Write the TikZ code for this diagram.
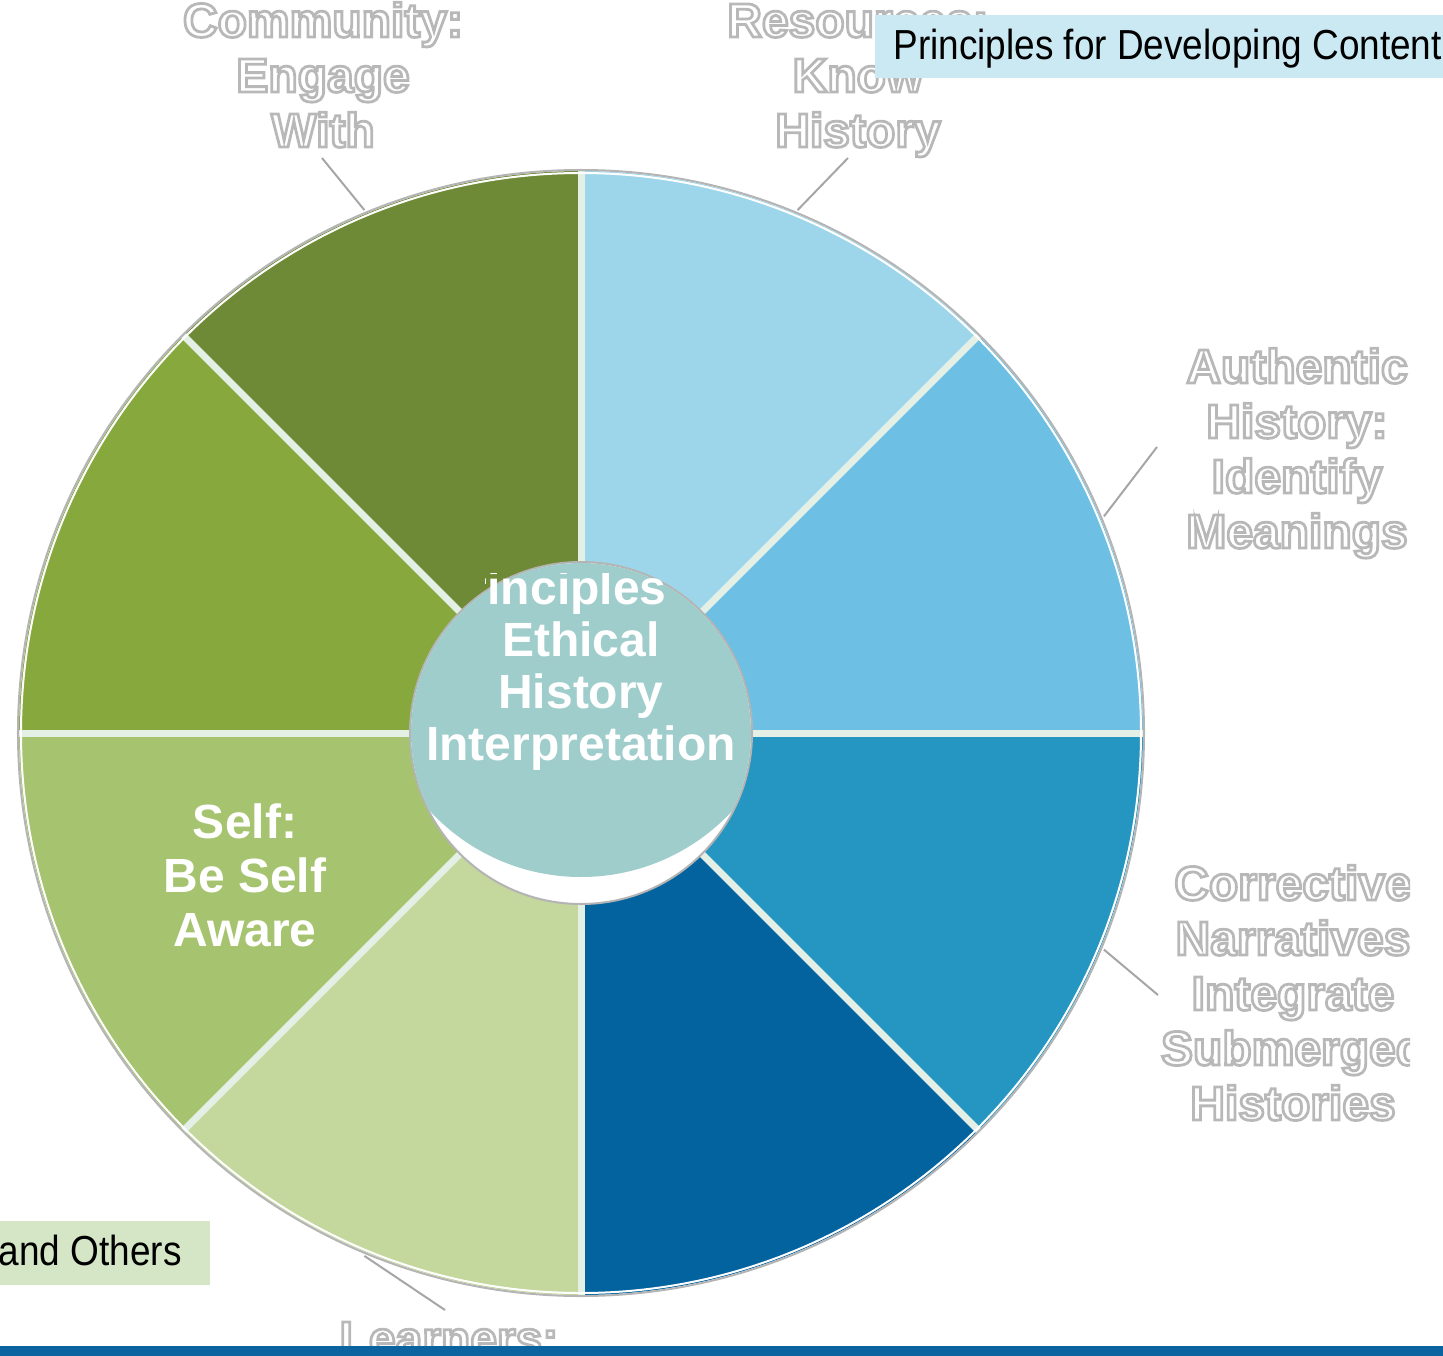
\documentclass[tikz,border=0pt]{standalone}
\usepackage{fontspec}
\setmainfont{Liberation Sans}
\newfontfamily\narrowsans[FakeStretch=0.88]{Liberation Sans}
\usetikzlibrary{math}

\definecolor{segA}{HTML}{6DC0E3}
\definecolor{segB}{HTML}{9DD6EA}
\definecolor{segC}{HTML}{6F8A36}
\definecolor{segD}{HTML}{86A83C}
\definecolor{segE}{HTML}{A6C36F}
\definecolor{segF}{HTML}{C4D79D}
\definecolor{segG}{HTML}{02639F}
\definecolor{segH}{HTML}{2596C1}
\definecolor{divider}{HTML}{E4F0E6}
\definecolor{rimgray}{HTML}{B4B4B4}
\definecolor{hub}{HTML}{9FCDCB}
\definecolor{tagblue}{HTML}{CBE9F3}
\definecolor{taggreen}{HTML}{D5E6C6}
\definecolor{barblue}{HTML}{0B64A0}

% hollow letters: white fill, grey stroke
\newcommand{\outl}[1]{\special{pdf:literal direct 2 Tr 1.4 w 0.72 0.72 0.72 RG}#1\special{pdf:literal direct 0 Tr}}

\tikzset{
  wedgeline/.style={line width=3.5pt, divider},
  leader/.style={draw=gray!70, line width=1pt},
  ringtext/.style={font=\fontsize{24}{27.5}\selectfont\bfseries, align=center,
    text=white, inner sep=0pt, anchor=base},
  hubtext/.style={font=\fontsize{24}{26}\selectfont\bfseries, align=center,
    text=white, inner sep=0pt, anchor=base},
  tagbox/.style={font=\fontsize{21}{24}\selectfont\narrowsans, text=black, inner sep=0pt}
}

\begin{document}
\begin{tikzpicture}[x=0.5pt,y=0.5pt]
  \tikzmath{
    \rOut = 562;
    \rIn = 171;
  }
  \useasboundingbox (-581,-622) rectangle (862,733);

  % eight wedges, starting east and going round
  \foreach \c [count=\i from 0, evaluate={\a = \i*45}] in
      {segA,segB,segC,segD,segE,segF,segG,segH}
    \fill [\c] (0,0) -- (\a:\rOut) arc [start angle=\a, delta angle=45, radius=\rOut] -- cycle;

  \foreach \a in {0,45,...,315}
    \draw [wedgeline] (0,0) -- (\a:\rOut);

  \draw [white, line width=1pt] (0,0) circle (\rOut-2);
  \draw [rimgray, line width=1pt] (0,0) circle (\rOut+1);

  % hub
  \draw [fill=white, draw=rimgray, line width=1pt] (0,0) circle (\rIn);
  \begin{scope}
    \clip (0,0) circle (\rIn-1);
    \fill [hub] (0,62) circle (206);
  \end{scope}

  \begin{scope}
    \clip (-96,160) -- (87,160) -- (87,118) -- (185,118) -- (185,-170) -- (-185,-170)
          -- (-185,118) -- (-96,118) -- cycle;
    \node [hubtext] (hubname) at (0,-27)
      {Principles of\\Ethical\\History\\Interpretation};
  \end{scope}

  % labels round the wheel
  \node [ringtext] (community) at (-258,586) {\outl{Community:}\\\outl{Engage}\\\outl{With}};
  \node [ringtext] (resources) at (277,586) {\outl{Resources:}\\\outl{Know}\\\outl{History}};
  \node [ringtext] (authentic) at (716,185)
    {\outl{Authentic}\\\outl{History:}\\\outl{Identify}\\\outl{Meanings}};
  \begin{scope}
    \clip (400,-420) rectangle (829,0);
    \node [ringtext] (corrective) at (712,-387)
      {\outl{Corrective}\\\outl{Narratives}\\\outl{Integrate}\\\outl{Submerged}\\\outl{Histories}};
  \end{scope}
  \node [ringtext] (learners) at (-132,-622) {\outl{Learners:}};
  \node [ringtext, font=\fontsize{24}{27}\selectfont\bfseries] (self) at (-336,-213)
    {Self:\\Be Self\\Aware};

  \coordinate (comEnd) at (-259,575);
  \coordinate (resEnd) at (267,575);
  \coordinate (autEnd) at (576,286);
  \coordinate (corEnd) at (577,-262);
  \coordinate (lrnEnd) at (-136,-577);
  \draw [leader] (comEnd) -- (112.5:\rOut+4);
  \draw [leader] (resEnd) -- (67.5:\rOut+4);
  \draw [leader] (autEnd) -- (22.5:\rOut+4);
  \draw [leader] (corEnd) -- (-22.5:\rOut+4);
  \draw [leader] (lrnEnd) -- (247.5:\rOut+4);

  % tags and bottom bar
  \fill [tagblue] (294,718) rectangle (870,655);
  \node [tagbox, anchor=base west] (content) at (312,673) {Principles for Developing Content};
  \fill [taggreen] (-590,-488) rectangle (-371,-552);
  \node [tagbox, anchor=base east] (others) at (-399,-532) {and Others};
  \fill [barblue] (-590,-613) rectangle (870,-630);
\end{tikzpicture}
\end{document}
